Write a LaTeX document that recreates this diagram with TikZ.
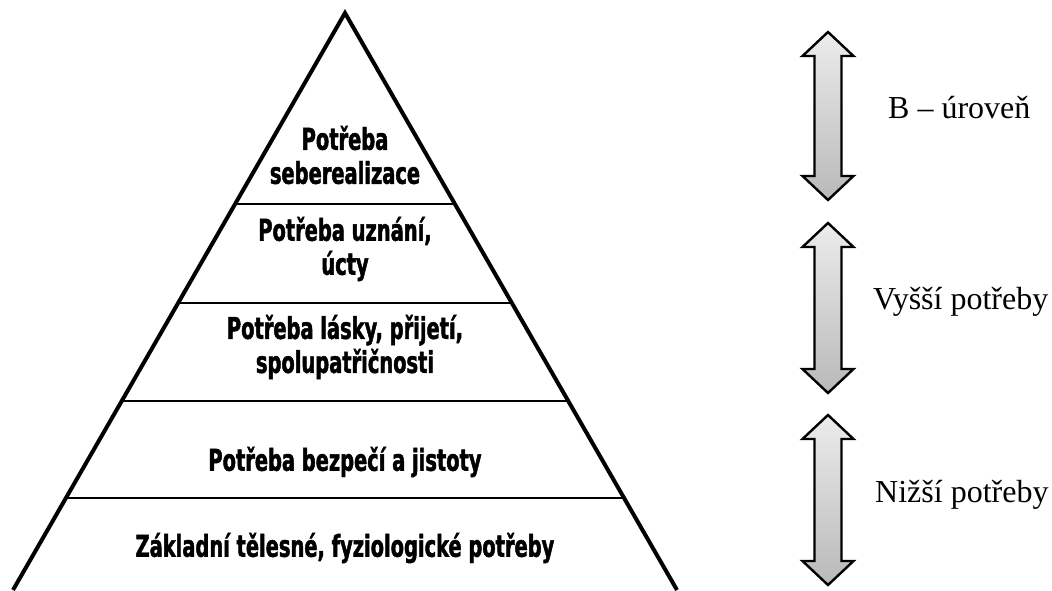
\documentclass[tikz,border=0pt]{standalone}
\usepackage{fontspec}
\setmainfont{Liberation Serif}
\newfontfamily\tierfont[FakeStretch=0.72, FakeBold=1.5]{DejaVu Sans Condensed Bold}

% double arrow: x, top tip, bottom tip
\newcommand\updown[3]{%
  \shade[vbar] ({#1},{#2}) -- ({#1+25.5},{#2+24}) -- ({#1+13.5},{#2+24})
     -- ({#1+13.5},{#3-24}) -- ({#1+25.5},{#3-24}) -- ({#1},{#3})
     -- ({#1-25.5},{#3-24}) -- ({#1-13.5},{#3-24}) -- ({#1-13.5},{#2+24})
     -- ({#1-25.5},{#2+24}) -- cycle;}

\begin{document}
\begin{tikzpicture}[x=1pt, y=-1pt,
    side/.style={line width=4pt, line join=miter},
    tier/.style={line width=2pt},
    need/.style={font=\tierfont\fontsize{30}{34}\selectfont, align=center, inner sep=0pt},
    level/.style={font=\fontsize{32}{37}\selectfont, anchor=base west, inner sep=0pt},
    vbar/.style={draw=black, line width=2.4pt, line join=miter,
                 top color=gray!15, bottom color=gray!55}]
  \useasboundingbox (0,0) rectangle (1052,590);
  % pyramid
  \draw[side] (13,590) -- (345,13) -- (677,590);
  \foreach \y in {204,303,401,498}
    \draw[tier] ({345-0.5754*(\y-13)},\y) -- ({345+0.5754*(\y-13)},\y);
  % needs
  \node[need] (selfreal) at (345,155) {Potřeba\\seberealizace};
  \node[need] (esteem) at (345,249) {Potřeba uznání,\\úcty};
  \node[need] (love) at (345,347) {Potřeba lásky, přijetí,\\spolupatřičnosti};
  \node[need] (safety) at (345,462) {Potřeba bezpečí a jistoty};
  \node[need] (body) at (345,548) {Základní tělesné, fyziologické potřeby};
  % arrows
  \updown{828}{32}{200}
  \updown{828}{223}{393}
  \updown{828}{415}{585}
  \node[level] (blevel) at (888,118) {B – úroveň};
  \node[level] (higher) at (873,309) {Vyšší potřeby};
  \node[level] (lower) at (875,502) {Nižší potřeby};
\end{tikzpicture}
\end{document}
